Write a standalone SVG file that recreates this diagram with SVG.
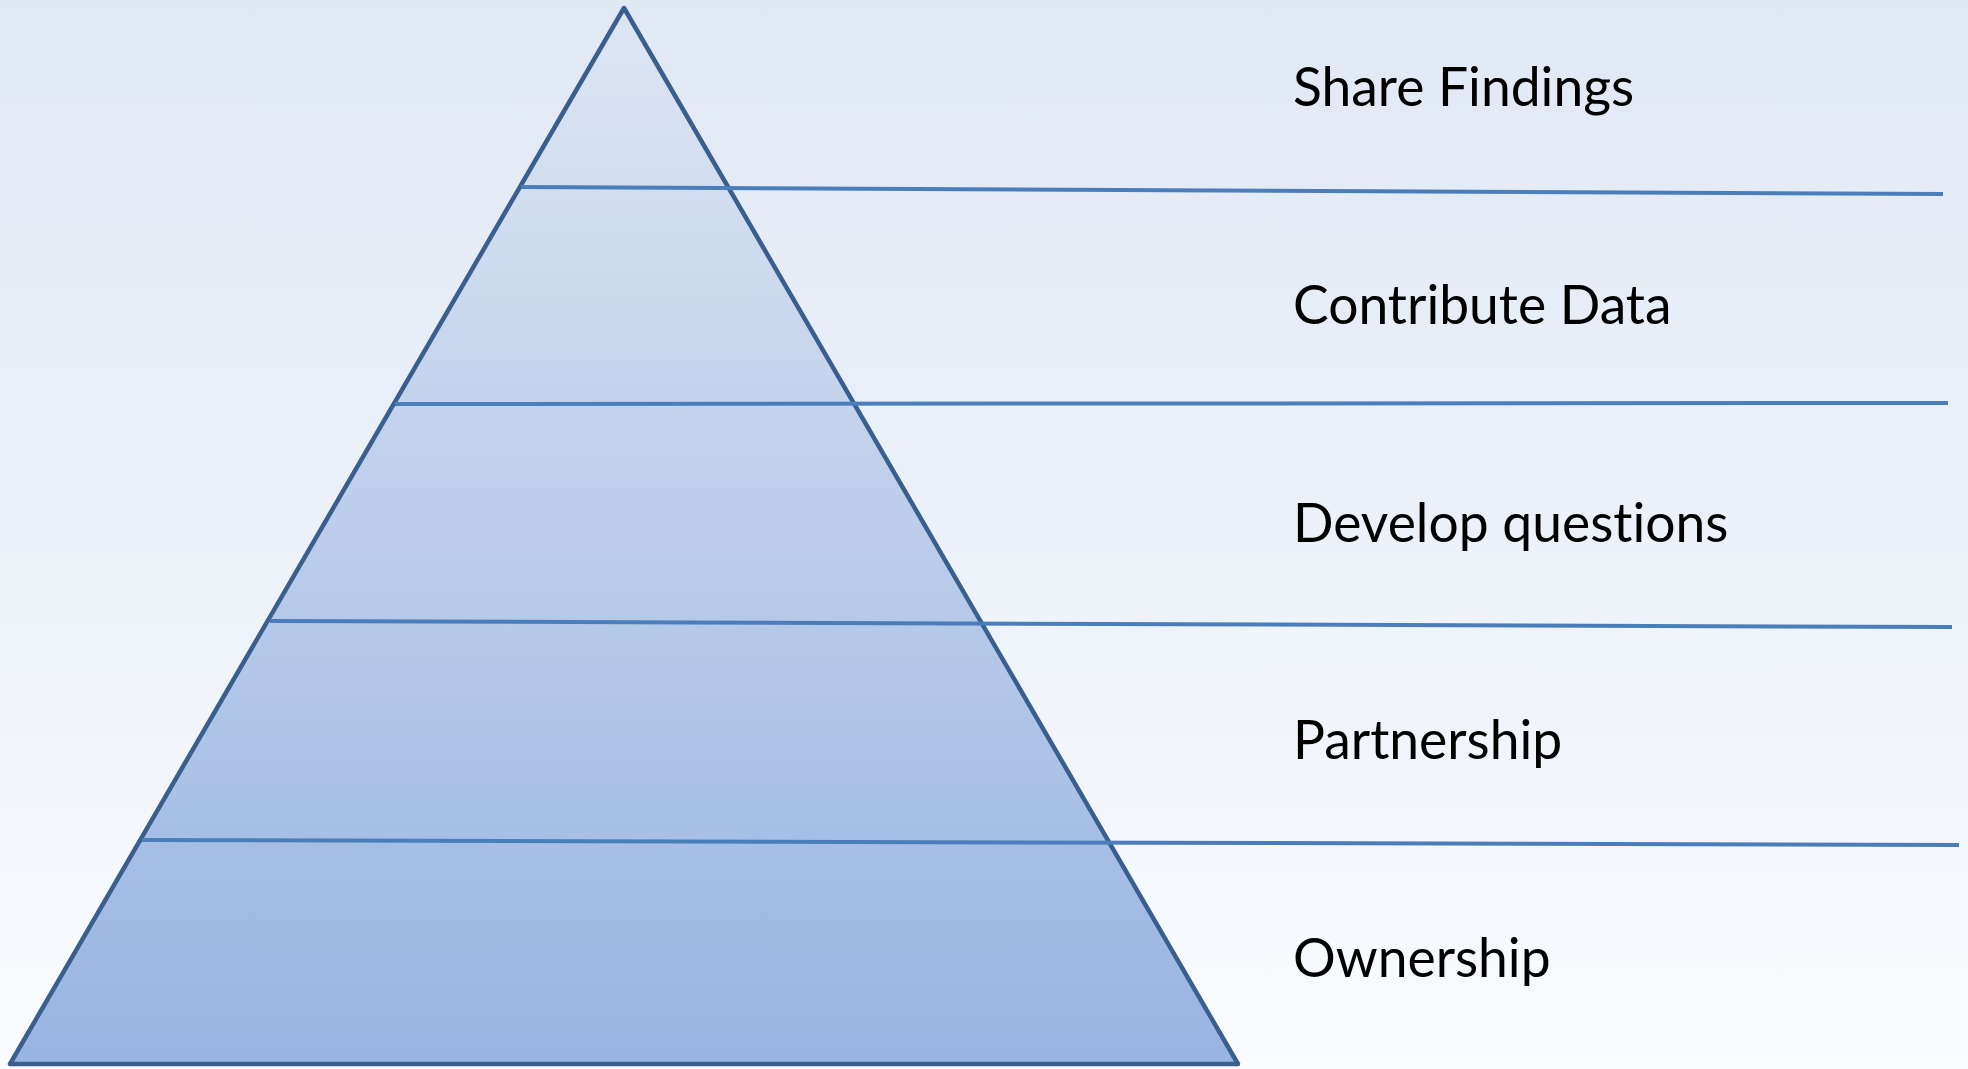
<svg xmlns="http://www.w3.org/2000/svg" width="1968" height="1069" viewBox="0 0 1968 1069">
<defs>
<linearGradient id="bg" x1="0" y1="0" x2="0" y2="1">
<stop offset="0" stop-color="#E0E8F4"/>
<stop offset="1" stop-color="#F9FBFE"/>
</linearGradient>
<linearGradient id="tri" x1="0" y1="0" x2="0" y2="1">
<stop offset="0" stop-color="#DEE6F3"/>
<stop offset="1" stop-color="#98B4E2"/>
</linearGradient>
<style>
.lbl{font-family:Lato,"Liberation Sans",sans-serif;font-size:53.4px;fill:#000;font-variant-ligatures:none;font-feature-settings:"liga" 0,"dlig" 0,"clig" 0}
.sep{stroke:#4A7EBB;stroke-width:4;fill:none}
</style>
</defs>
<rect width="1968" height="1069" fill="url(#bg)"/>
<g id="pyramid">
<polygon points="624,8 10,1064 1238,1064" fill="url(#tri)" stroke="#3A5F8E" stroke-width="4.5" stroke-linejoin="round"/>
</g>
<g id="connectors">
<line class="sep" x1="521" y1="187" x2="1943" y2="194"/>
<line class="sep" x1="395" y1="404" x2="1948" y2="403"/>
<line class="sep" x1="270" y1="621" x2="1952" y2="627"/>
<line class="sep" x1="142" y1="840" x2="1959" y2="845"/>
</g>
<g id="label-share"><text class="lbl" x="1293" y="106">Share Findings</text></g>
<g id="label-contribute"><text class="lbl" x="1293" y="324">Contribute Data</text></g>
<g id="label-develop"><text class="lbl" x="1293" y="542">Develop questions</text></g>
<g id="label-partnership"><text class="lbl" x="1293" y="759">Partnership</text></g>
<g id="label-ownership"><text class="lbl" x="1293" y="977">Ownership</text></g>
</svg>
